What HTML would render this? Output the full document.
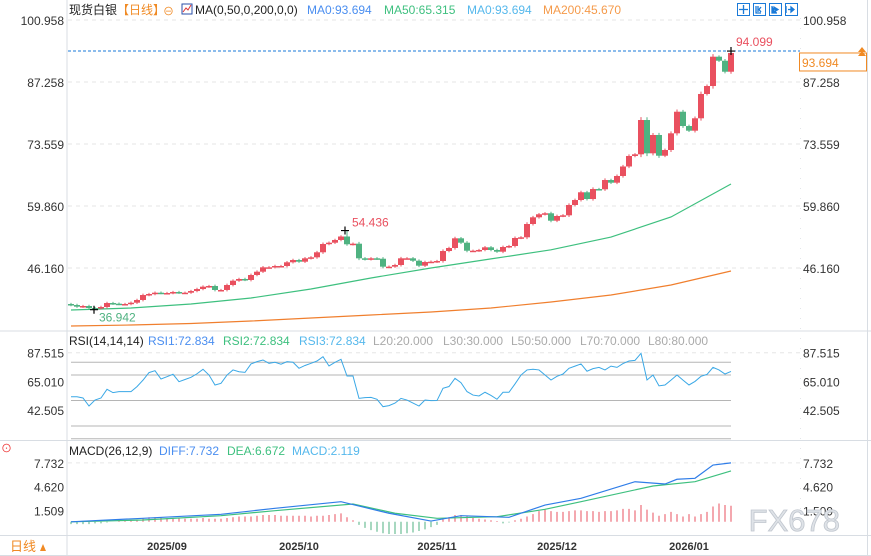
<!DOCTYPE html>
<html><head><meta charset="utf-8"><style>
body{margin:0;background:#fff;width:871px;height:556px;overflow:hidden}
svg{display:block;font-family:"Liberation Sans","Noto Sans CJK SC",sans-serif}
</style></head><body>
<svg id="c" width="871" height="556" xmlns="http://www.w3.org/2000/svg"></svg>
<script>
// ---- data ----
const closes=[37.98,37.61,37.76,37.32,37.25,37.54,38.42,38.27,38.20,38.20,38.49,39.09,40.19,40.41,40.70,40.63,40.63,40.85,40.70,40.70,41.07,41.51,42.03,42.18,41.30,41.30,42.40,43.35,43.73,43.51,44.61,45.34,46.31,46.31,46.60,46.60,47.42,47.92,47.55,48.30,48.52,49.63,51.46,51.75,52.35,53.12,51.40,51.53,48.30,48.08,48.30,48.21,46.45,46.45,46.82,48.30,48.30,47.77,46.67,47.48,47.55,47.70,49.91,50.58,52.72,51.75,49.98,49.98,50.14,50.73,50.14,49.76,50.80,51.02,52.79,52.94,55.88,57.36,58.03,58.25,56.61,57.65,57.80,60.08,61.18,62.89,61.40,63.61,63.55,65.60,65.01,66.49,68.59,70.91,71.28,78.86,71.50,75.55,70.97,72.23,75.92,80.69,77.53,76.50,79.24,84.61,86.37,92.85,91.96,89.53,93.67];
const firstOpen=38.2;
const ma50Days=[0,10,20,30,40,50,60,70,80,90,100,110];
const ma50=[36.88,37.32,38.20,39.53,41.52,43.95,46.16,48.17,50.17,52.99,57.43,64.72];
const ma200=[33.34,33.56,33.89,34.45,35.11,35.78,36.43,37.32,38.64,40.19,42.40,45.50];
const rsi=[53.0,53.0,52,45.7,50.4,52,58.8,56.2,57.0,57,57,60.9,66,71.9,73.4,66.9,68.7,70.6,64.8,66.5,68.2,71,74.5,70,62.2,63.5,70,74.0,72.6,72.1,78.7,80.5,81.8,79.2,80.0,78.5,80.5,80,75.3,77.5,79.2,81,84.4,77.1,80,82.3,69.2,69.2,51.7,52.3,52.5,51.0,45.2,46.0,48,51.7,50.4,48,45.7,50.4,49.9,50,59.6,61,67.4,64,57,54.3,53.6,56.5,54,51.0,56.5,56.5,63.0,70,74.0,74.5,74.0,70,66.1,69,70.8,75.3,77,78.7,73,75,76.0,74,77,76,79,81.0,81.5,87.0,66.1,70.0,61.5,62.2,66,70.0,66,62.2,65,69,70.5,76.0,74,70.8,72.8];
const diffDays=[0,12,25,34,45,53,60,65,73,79,85,94,99,101,104,107,110];
const diff=[0.0,0.46,0.98,1.77,2.64,1.12,0.1,0.8,0.59,2.2,3.08,5.26,4.96,5.58,5.71,7.45,7.73];
const deaDays=[0,12,25,34,47,54,61,71,79,85,97,104,110];
const dea=[0.0,0.24,0.8,1.46,2.34,1.12,0.46,0.67,1.64,2.64,4.7,5.26,6.67];
const hist=[-0.3,-0.3,-0.3,-0.3,-0.2,-0.2,-0.1,0,0.1,0.1,0.2,0.3,0.5,0.6,0.6,0.6,0.5,0.5,0.5,0.4,0.4,0.4,0.5,0.4,0.4,0.4,0.5,0.6,0.7,0.7,0.7,0.8,0.9,0.9,0.9,0.8,0.8,0.8,0.8,0.8,0.7,0.8,0.8,0.9,1.0,1.1,0.6,0.2,-0.4,-0.8,-1.1,-1.3,-1.5,-1.6,-1.6,-1.6,-1.5,-1.4,-1.2,-1.0,-0.7,-0.4,0.3,0.6,0.9,0.9,0.7,0.5,0.4,0.3,0.2,0.1,-0.2,-0.1,0.2,0.4,0.7,1.0,1.4,1.6,1.4,1.3,1.3,1.4,1.5,1.5,1.4,1.4,1.3,1.4,1.4,1.5,1.7,1.7,1.5,2.2,1.6,1.2,0.8,1.0,1.3,1.0,0.7,1.0,0.7,1.0,1.3,2.0,2.4,2.2,2.1];
const priceTicks=[100.958,87.258,73.559,59.860,46.160];
const rsiTicks=[87.515,65.010,42.505];
const rsiLevels=[80,70,50,30,20];
const macdTicks=[7.732,4.620,1.509];
const monthLabels=["2025/09","2025/10","2025/11","2025/12","2026/01"];
const monthDays=[16,38,61,81,103];
const highLabel=54.436, highDay=46, lowLabel=36.942, lowDay=4, lastHigh=94.099;

// ---- axes ----
const X=i=>71+i*6;
const Y=p=>20+(100.958-p)/13.6998*62;
const YR=v=>352.7+(87.515-v)*1.2753;
const YM=v=>521.8-v*7.62;

const svg=document.getElementById('c');
const NS='http://www.w3.org/2000/svg';
function el(tag,attrs,parent){const e=document.createElementNS(NS,tag);for(const k in attrs)e.setAttribute(k,attrs[k]);(parent||svg).appendChild(e);return e;}
function txt(x,y,s,fill,size,anchor,parent){const t=el('text',{x:x,y:y,fill:fill,'font-size':size||12,'text-anchor':anchor||'start'},parent);t.textContent=s;return t;}

// frame lines
let g;
g=el('g',{});
el('line',{x1:67,y1:0,x2:67,y2:556,stroke:'#d8dde3'},g);
el('line',{x1:800.5,y1:18,x2:800.5,y2:535,stroke:'#e3e6ea','stroke-dasharray':'1 9'},g);
el('line',{x1:867.5,y1:0,x2:867.5,y2:556,stroke:'#d8dde3'},g);
el('line',{x1:0,y1:331,x2:871,y2:331,stroke:'#d8dde3'},g);
el('line',{x1:0,y1:440.5,x2:871,y2:440.5,stroke:'#d8dde3'},g);
el('line',{x1:0,y1:535.5,x2:871,y2:535.5,stroke:'#d8dde3'},g);
el('line',{x1:0,y1:555.5,x2:871,y2:555.5,stroke:'#d8dde3'},g);

// header
g=el('g',{});
txt(69,14,'现货白银','#222',12,'start',g);
txt(117,14,'【日线】','#f08a24',12,'start',g);
txt(163,15,'⊖','#f08a24',11,'start',g);
el('rect',{x:182,y:4,width:10,height:10,fill:'#fff',stroke:'#2a4fa8'},g);
el('polyline',{points:'183,12 186,8 188,10 191,5',fill:'none',stroke:'#d33',"stroke-width":1},g);
txt(195,14,'MA(0,50,0,200,0,0)','#222',12,'start',g);
txt(307,14,'MA0:93.694','#4a8ef0',12,'start',g);
txt(384,14,'MA50:65.315','#3ec07f',12,'start',g);
txt(467,14,'MA0:93.694','#55b8ec',12,'start',g);
txt(543,14,'MA200:45.670','#f59a4a',12,'start',g);
const iconPaths=['M743.5,5v9M739,9.5h9','M756,6v7h5M761,7l-2,2.5l2,2.5M758,6v6','M772,6v7h5M774,7l4,2.5l-4,2.5z','M786,6v7M788,9.5h4M791,7l3,2.5l-3,2.5z'];
for(let k=0;k<4;k++){const b=el('rect',{x:737.5+k*16,y:3.5,width:12,height:12,fill:'#fff',stroke:'#1a7ad8'});
 el('path',{d:iconPaths[k],fill:k>1?'#1a7ad8':'none',stroke:'#1a7ad8','stroke-width':1.3});}

// price grid/ticks
g=el('g',{});
priceTicks.forEach(p=>{const y=Y(p);
 el('line',{x1:68,y1:y,x2:800,y2:y,stroke:'#e6e6e6','stroke-dasharray':'4 4'},g);
 txt(64,y+5,p.toFixed(3),'#333',12,'end',g);
 txt(803,y+5,p.toFixed(3),'#333',12,'start',g);});

// MA lines
function poly(days,vals,yf,color,name){const p=el('polyline',{points:vals.map((v,k)=>X(days[k])+','+yf(v)).join(' '),fill:'none',stroke:color,'stroke-width':1.2});return p;}
poly(ma50Days,ma200,Y,'#f07f2e','ma200-line');
poly(ma50Days,ma50,Y,'#3ec07f','ma50-line');

// candles
g=el('g',{});
closes.forEach((c,i)=>{const o=i?closes[i-1]:firstOpen;const up=c>=o;const col=up?'#e9505f':'#4fb281';
 const x=X(i);const yt=Y(Math.max(o,c)),yb=Y(Math.min(o,c));const w=0.25+0.05*Math.abs(c-o);
 const hi=i===highDay?highLabel:(i===closes.length-1?lastHigh:Math.max(o,c)+w);
 const lo=i===lowDay?lowLabel:Math.min(o,c)-w;
 const cg=el('g',{},g);
 el('line',{x1:x,y1:Y(hi),x2:x,y2:Y(lo),stroke:col},cg);
 el('rect',{x:x-3,y:yt,width:6,height:Math.max(1.5,yb-yt),fill:col},cg);});

// annotations
g=el('g',{});
el('line',{x1:68,y1:Y(lastHigh),x2:800,y2:Y(lastHigh),stroke:'#1a7ad8','stroke-dasharray':'3 2'},g);
function cross(x,y){el('path',{d:`M${x-4},${y}h8M${x},${y-4}v8`,stroke:'#000','stroke-width':1.2},g);}
cross(X(highDay)-2,Y(highLabel));txt(X(highDay)+5,Y(highLabel)-4,highLabel.toFixed(3),'#e9505f',12,'start',g);
cross(X(lowDay)-1,Y(lowLabel));txt(X(lowDay)+4,Y(lowLabel)+12,lowLabel.toFixed(3),'#4fb281',12,'start',g);
cross(X(closes.length-1),Y(lastHigh));txt(X(closes.length-1)+5,Y(lastHigh)-5,lastHigh.toFixed(3),'#e9505f',12,'start',g);
const tagY=Y(closes[closes.length-1])+9;
const tag=el('rect',{x:799.5,y:tagY-9,width:67,height:18,fill:'#fff',stroke:'#f08a24'});
txt(802,tagY+5,'93.694','#f08a24',12,'start');
el('path',{d:'M858,52l4,-5l4,5z M858,56l4,-5l4,5z',fill:'#f08a24'});

// RSI panel
g=el('g',{});
txt(69,345,'RSI(14,14,14)','#222',12,'start',g);
txt(148,345,'RSI1:72.834','#4a8ef0',12,'start',g);
txt(223,345,'RSI2:72.834','#3ec07f',12,'start',g);
txt(299,345,'RSI3:72.834','#55b8ec',12,'start',g);
[['L20:20.000',373],['L30:30.000',443],['L50:50.000',511],['L70:70.000',580],['L80:80.000',648]].forEach(a=>txt(a[1],345,a[0],'#aaa',12,'start',g));
rsiTicks.forEach(v=>{const y=YR(v);txt(64,y+5,v.toFixed(3),'#333',12,'end',g);txt(803,y+5,v.toFixed(3),'#333',12,'start',g);});
el('line',{x1:68,y1:YR(rsiTicks[0]),x2:800,y2:YR(rsiTicks[0]),stroke:'#e6e6e6','stroke-dasharray':'4 4'},g);
rsiLevels.forEach(v=>el('line',{x1:71,y1:YR(v),x2:731,y2:YR(v),stroke:'#b5b5b5'},g));
const rl=el('polyline',{points:rsi.map((v,i)=>X(i)+','+YR(v)).join(' '),fill:'none',stroke:'#3aa8e6','stroke-width':1});


// MACD panel
g=el('g',{});
txt(1,452,'⊙','#e33',11,'start',g);
txt(69,455,'MACD(26,12,9)','#222',12,'start',g);
txt(159,455,'DIFF:7.732','#4a8ef0',12,'start',g);
txt(227,455,'DEA:6.672','#3ec07f',12,'start',g);
txt(292,455,'MACD:2.119','#55b8ec',12,'start',g);
macdTicks.forEach(v=>{const y=YM(v);txt(64,y+5,v.toFixed(3),'#333',12,'end',g);txt(803,y+5,v.toFixed(3),'#333',12,'start',g);});
el('line',{x1:68,y1:YM(macdTicks[0]),x2:800,y2:YM(macdTicks[0]),stroke:'#e6e6e6','stroke-dasharray':'4 4'},g);
hist.forEach((v,i)=>{const b=el('line',{x1:X(i),y1:YM(0),x2:X(i),y2:YM(v),stroke:v>=0?'#e9505f':'#4fb281'},g);});
poly(deaDays,dea,YM,'#3ec07f','dea-line');
poly(diffDays,diff,YM,'#2f7de8','diff-line');
const wm=txt(840,531,'FX678','#dfe3e8',31,'end');wm.setAttribute('stroke','#c0c6ce');wm.setAttribute('stroke-width','0.8');

// date axis
g=el('g',{});
monthLabels.forEach((m,k)=>txt(X(monthDays[k]),550,m,'#333',11,'middle',g).setAttribute('font-weight','bold'));
const tf=el('g',{});
el('rect',{x:0,y:536,width:66,height:19,fill:'#fff'},tf);
txt(10,551,'日线','#f08a24',13,'start',tf);
el('path',{d:'M40,551l3,-7l3,7z',fill:'#f08a24'},tf);
</script>
</body></html>
